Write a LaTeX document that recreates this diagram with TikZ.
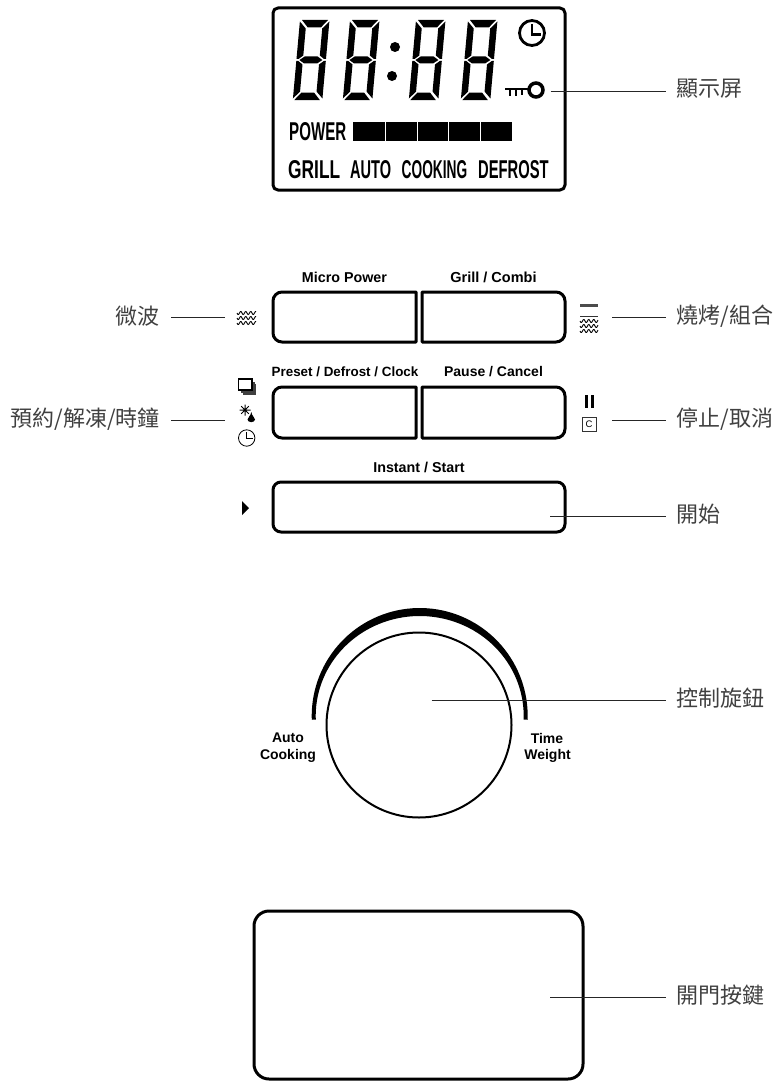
\documentclass[tikz,border=0pt]{standalone}
\usepackage{graphicx}
\usepackage{fontspec}
\setmainfont{Liberation Sans}
\newfontfamily\cjk{Noto Sans CJK TC}
\newfontfamily\labf{Liberation Sans Bold}
\newfontfamily\lcdf{Liberation Sans}
\newcommand{\lcdword}[3]{\resizebox{#1pt}{#2pt}{\lcdf\fontsize{20}{22}\selectfont\bfseries #3}}
\newcommand{\sevenseg}[1]{%
  \begin{scope}[shift={(#1,20)},xslant=0.09]
    \fill (2,0)--(28,0)--(21.5,7.5)--(8.5,7.5)--cycle;
    \fill (1.5,80)--(27,80)--(20.5,72.5)--(8,72.5)--cycle;
    \fill (3,40)--(8,36.5)--(21,36.5)--(26,40)--(21,43.5)--(8,43.5)--cycle;
    \fill (0,1.5)--(6.5,8.5)--(6.5,35.5)--(2,39)--(0,39)--cycle;
    \fill (29.5,1.5)--(23,8.5)--(23,35.5)--(27.5,39)--(29.5,39)--cycle;
    \fill (0,78.5)--(6.5,71.5)--(6.5,44.5)--(2,41)--(0,41)--cycle;
    \fill (29.5,78.5)--(23,71.5)--(23,44.5)--(27.5,41)--(29.5,41)--cycle;
  \end{scope}}
\newcommand{\wavy}[3]{\draw[line width=0.9pt] plot[domain=0:#3,samples=40,smooth] ({#1+\x},{#2+1.5*sin(\x*72)});}
\tikzset{
  box/.style={draw=black,line width=3pt,line join=round},
  conn/.style={draw=black!85,line width=1pt},
  cn/.style={font=\cjk\fontsize{22}{24}\selectfont,text=black!75,inner xsep=11pt,inner ysep=0pt},
  keylab/.style={font=\labf\fontsize{#1}{14}\selectfont,inner sep=0pt},
  lcdtxt/.style={inner sep=0pt,anchor=base west}
}
\begin{document}
\begin{tikzpicture}[x=1pt,y=-1pt]
\useasboundingbox (0,0) rectangle (772,1081);
% LCD
\draw[box,rounded corners=5pt] (273,8) rectangle (565,190);
\sevenseg{300}\sevenseg{350}\sevenseg{416}\sevenseg{468}
\fill (395,47) circle[radius=5];
\fill (392,76) circle[radius=5];
\draw[line width=2.8pt] (532,33) circle[radius=12.5];
\draw[line width=2.2pt] (532,24)--(532,34.5)--(541,34.5);
\draw[line width=3.5pt] (536,90) circle[radius=7];
\draw[line width=2.8pt] (505,89)--(530,89);
\draw[line width=1.8pt] (510,89)--(510,96) (516,89)--(516,96) (522,89)--(522,95);
\node[lcdtxt] (pw) at (289,140) {\lcdword{57}{18}{POWER}};
\fill (353,122) rectangle (384.5,140.5);
\fill (385.5,122) rectangle (416.5,140.5);
\fill (417.5,122) rectangle (448,140.5);
\fill (449,122) rectangle (480,140.5);
\fill (481,122) rectangle (512,140.5);
\node[lcdtxt] (l1) at (288,178) {\lcdword{52}{18}{GRILL}};
\node[lcdtxt] (l2) at (350,178) {\lcdword{41}{18}{AUTO}};
\node[lcdtxt] (l3) at (401.5,178) {\lcdword{65.5}{18}{COOKING}};
\node[lcdtxt] (l4) at (478,178) {\lcdword{70.5}{18}{DEFROST}};
% Keys
\draw[box] (416,292) [rounded corners=9pt] -- (273,292) -- (273,342) [sharp corners] -- (416,342) -- cycle;
\draw[box] (422,292) [rounded corners=9pt] -- (565,292) -- (565,342) [sharp corners] -- (422,342) -- cycle;
\draw[box] (416,387) [rounded corners=9pt] -- (273,387) -- (273,438) [sharp corners] -- (416,438) -- cycle;
\draw[box] (422,387) [rounded corners=9pt] -- (565,387) -- (565,438) [sharp corners] -- (422,438) -- cycle;
\draw[box,rounded corners=8pt] (273,482) rectangle (565,532);
\node[keylab=14.3] (k1) at (344.5,277) {Micro Power};
\node[keylab=14.5] (k2) at (493.5,277) {Grill / Combi};
\node[keylab=13.4] (k3) at (345,372) {Preset / Defrost / Clock};
\node[keylab=14] (k4) at (493.5,372) {Pause / Cancel};
\node[keylab=14.3] (k5) at (419,467) {Instant / Start};
% Icons
\wavy{237}{313}{19}\wavy{237}{318}{19}\wavy{237}{323}{19}
\fill[black!70] (580,304) rectangle (598,307);
\draw[black!80,line width=1pt] (580,316.5)--(598,316.5);
\wavy{580}{321}{18}\wavy{580}{326}{18}\wavy{580}{331}{18}
\draw[line width=1.1pt,black!75] (254,382)--(254,392)--(241,392);
\draw[line width=1.1pt,black!75] (255.7,384)--(255.7,394)--(243,394);
\draw[line width=1.2pt,fill=white] (238.5,379) rectangle (252,390);
\draw[line width=1pt] (239.5,410)--(250.5,410) (245,404.5)--(245,415.5) (241.2,406.2)--(248.8,413.8) (241.2,413.8)--(248.8,406.2);
\fill (251.3,412) .. controls (251.8,416) and (255,417.5) .. (255,419.5) .. controls (255,423) and (247.5,423) .. (247.5,419.5) .. controls (247.5,417.5) and (250.8,416) .. (251.3,412) -- cycle;
\draw[line width=0.8pt] (246.7,438) circle[radius=8.2];
\draw[line width=0.8pt] (246.7,432)--(246.7,438.5)--(252.5,438.5);
\fill (585,395) rectangle (588,408);
\fill (590.5,395) rectangle (593.5,408);
\draw[line width=0.7pt,black!80] (582,417.5) rectangle (596,431);
\node[inner sep=0pt,font=\fontsize{9.5}{10}\selectfont] (cc) at (589,424.5) {C};
\fill (242,501)--(249,508)--(242,515)--cycle;
% Knob
\fill plot[domain=-2:182,samples=70] ({419.7+108*cos(\x)},{716-108*sin(\x)}) -- plot[domain=182:-2,samples=70] ({419.7+104*cos(\x)},{716-100*sin(\x)}) -- cycle;
\node[draw=black,line width=2pt,circle,minimum size=185pt,inner sep=0pt] (knob) at (419,725) {};
\node[keylab=14] (aa) at (288,738) {Auto};
\node[keylab=14] (ab) at (288,756) {Cooking};
\node[keylab=14] (ta) at (547,738) {Time};
\node[keylab=14] (tb) at (547.5,756) {Weight};
% Door
\draw[box,rounded corners=15pt] (254,911) rectangle (583,1079);
% Callouts
\coordinate (c1) at (550.5,91);
\coordinate (c2) at (225,317);
\coordinate (c3) at (612,317);
\coordinate (c4) at (225,420.5);
\coordinate (c5) at (612,420.5);
\coordinate (c6) at (550,516.5);
\coordinate (c7) at (431.5,700);
\coordinate (c8) at (550,997);
\node[cn,anchor=west] (n1) at (665.5,89) {顯示屏};
\node[cn,anchor=east] (n2) at (171,316) {微波};
\node[cn,anchor=west] (n3) at (665.5,316) {燒烤/組合};
\node[cn,anchor=east] (n4) at (171,419) {預約/解凍/時鐘};
\node[cn,anchor=west] (n5) at (665.5,419) {停止/取消};
\node[cn,anchor=west] (n6) at (665.5,514.5) {開始};
\node[cn,anchor=west] (n7) at (665.5,698) {控制旋鈕};
\node[cn,anchor=west] (n8) at (665.5,995) {開門按鍵};
\draw[conn] (c1)--(c1-|n1.west);
\draw[conn] (c2)--(c2-|n2.east);
\draw[conn] (c3)--(c3-|n3.west);
\draw[conn] (c4)--(c4-|n4.east);
\draw[conn] (c5)--(c5-|n5.west);
\draw[conn] (c6)--(c6-|n6.west);
\draw[conn] (c7)--(c7-|n7.west);
\draw[conn] (c8)--(c8-|n8.west);
\end{tikzpicture}
\end{document}
